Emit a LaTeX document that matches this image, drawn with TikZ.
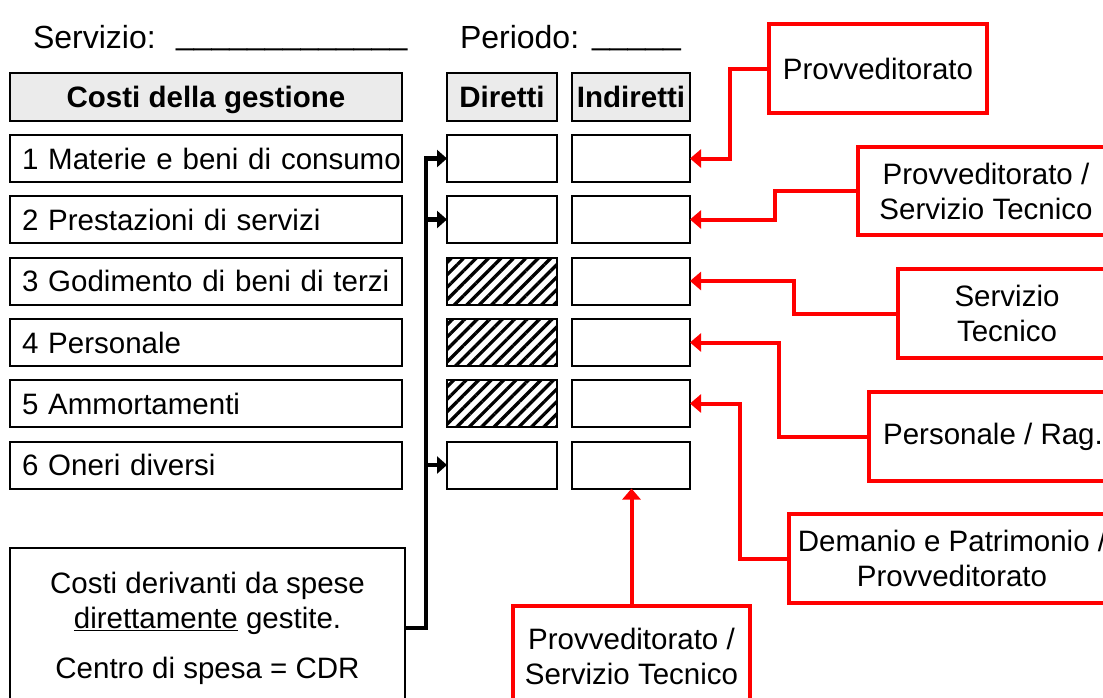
\documentclass[tikz,border=0pt]{standalone}
\usepackage{fontspec}
\setmainfont{Liberation Sans}
\usetikzlibrary{arrows.meta,patterns.meta,calc}
\begin{document}
\begin{tikzpicture}[x=1pt,y=-1pt,
  every node/.style={font=\fontsize{29.5}{35}\selectfont, inner sep=0pt, outer sep=0pt},
  blkbox/.style={draw=black, line width=2pt, anchor=north west},
  rowbox/.style={blkbox, minimum width=392pt, minimum height=47pt, text width=368pt, align=left, text height=21pt, text depth=0pt},
  headbox/.style={blkbox, fill=black!8, minimum height=48pt, text height=21pt, text depth=0pt, font=\fontsize{29.5}{35}\selectfont\bfseries},
  dcell/.style={blkbox, minimum width=110pt, minimum height=47pt},
  icell/.style={blkbox, minimum width=118pt, minimum height=47pt},
  hatched/.style={pattern={Lines[angle=45,distance=8.8pt,line width=3.3pt]}},
  redbox/.style={draw=red, line width=4pt, anchor=north west, align=center},
  redarr/.style={draw=red, line width=4pt, line join=miter, -{Triangle[length=11pt,width=18pt]}},
  blkline/.style={draw=black, line width=4.5pt, line join=miter, -{Triangle[length=10pt,width=17pt]}},
  titletext/.style={anchor=base west, font=\fontsize{32}{38}\selectfont}
]
\useasboundingbox (0,0) rectangle (1103,697);

% title line
\node[titletext] (srv) at (33,48) {Servizio:};
\node[titletext] (srvl) at (176,44) {\_\_\_\_\_\_\_\_\_\_\_\_\_};
\node[titletext] (per) at (460,48) {Periodo:};
\node[titletext] (perl) at (592,44) {\_\_\_\_\_};

% headers
\node[headbox, minimum width=392pt] (hg) at (10,73) {Costi della gestione};
\node[headbox, minimum width=110pt] (hd) at (447,73) {Diretti};
\node[headbox, minimum width=118pt] (hi) at (572,73) {Indiretti};

% rows
\node[rowbox] (r1) at (10,135) {\mbox{1 Materie e beni di consumo}};
\node[rowbox] (r2) at (10,196) {\mbox{2 Prestazioni di servizi}};
\node[rowbox] (r3) at (10,257.5) {\mbox{3 Godimento di beni di terzi}};
\node[rowbox] (r4) at (10,319) {\mbox{4 Personale}};
\node[rowbox] (r5) at (10,380) {\mbox{5 Ammortamenti}};
\node[rowbox] (r6) at (10,441.5) {\mbox{6 Oneri diversi}};

\node[dcell] (d1) at (447,135) {};
\node[dcell] (d2) at (447,196) {};
\node[dcell, hatched] (d3) at (447,257.5) {};
\node[dcell, hatched] (d4) at (447,319) {};
\node[dcell, hatched] (d5) at (447,380) {};
\node[dcell] (d6) at (447,441.5) {};

\node[icell] (i1) at (572,135) {};
\node[icell] (i2) at (572,196) {};
\node[icell] (i3) at (572,257.5) {};
\node[icell] (i4) at (572,319) {};
\node[icell] (i5) at (572,380) {};
\node[icell] (i6) at (572,441.5) {};

% bottom-left box
\node[blkbox, minimum width=395pt, minimum height=160pt, align=center] (cb) at (10,548)
  {Costi derivanti da spese\\\underline{direttamente} gestite.\\[15pt]Centro di spesa = CDR};

% black connectors
\draw[blkline] (cb.east) -- ++(21,0) coordinate (bus) |- (d1.west);
\draw[blkline] (bus |- d2.west) -- (d2.west);
\draw[blkline] (bus |- d6.west) -- (d6.west);

% red boxes
\node[redbox, minimum width=218pt, minimum height=89pt] (p1) at (769,24) {Provveditorato};
\node[redbox, minimum width=256pt, minimum height=88pt] (p2) at (858,147) {Provveditorato /\\Servizio Tecnico};
\node[redbox, minimum width=218pt, minimum height=89pt] (p3) at (898,269) {Servizio\\Tecnico};
\node[redbox, minimum width=248pt, minimum height=89pt] (p4) at (869,392) {Personale / Rag.};
\node[redbox, minimum width=326pt, minimum height=89pt] (p5) at (789,514) {Demanio e Patrimonio /\\Provveditorato};
\node[redbox, minimum width=237pt, minimum height=100pt] (p6) at (513,606) {Provveditorato /\\Servizio Tecnico};

% red connectors
\draw[redarr] (p1.west) -- ++(-39,0) |- (i1.east);
\draw[redarr] (p2.west) -- ++(-83,0) |- (i2.east);
\draw[redarr] (p3.west) -- ++(-104,0) |- (i3.east);
\draw[redarr] (p4.west) -- ++(-90,0) |- (i4.east);
\draw[redarr] (p5.west) -- ++(-49,0) |- (i5.east);
\draw[redarr] (p6.north) -- (p6.north |- i6.south);
\end{tikzpicture}
\end{document}
